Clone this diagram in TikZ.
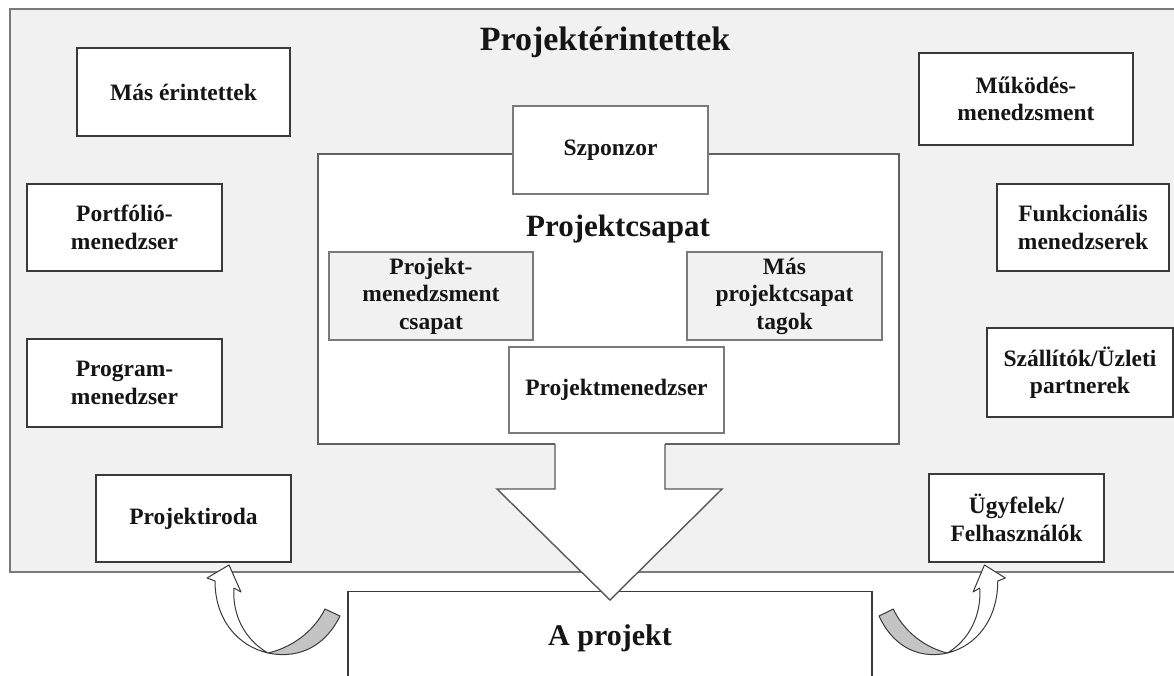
\documentclass[tikz,border=0pt]{standalone}
\usepackage{fontspec}
\setmainfont{Liberation Serif}
\definecolor{bg}{HTML}{F1F1F1}
\definecolor{edge}{HTML}{3A3A3A}
\definecolor{ledge}{HTML}{7A7A7A}
\definecolor{txt}{HTML}{151515}
\definecolor{band}{HTML}{C4C4C4}
\begin{document}
\begin{tikzpicture}[x=1pt,y=-1pt,
  box/.style={draw=edge, fill=white, line width=1.4pt, align=center, inner sep=0pt,
    text=txt, font=\fontsize{23.5}{27.5}\selectfont\bfseries},
  lbox/.style={box, draw=ledge},
  gbox/.style={box, draw=ledge, fill=bg},
  big/.style={text=txt, inner sep=0pt},
  curv/.style={draw=edge, line width=1pt, line join=round}
]
\useasboundingbox (0,0) rectangle (1174,675);
% outer stakeholder area
\path[fill=bg, draw=ledge, line width=1.3pt] (10,9) rectangle (1190,572);
\node[big, font=\fontsize{34}{40}\selectfont\bfseries] (title) at (605,42) {Projektérintettek};

% left boxes
\node[box, minimum width=213pt, minimum height=88pt] (mas) at (183.5,92) {Más érintettek};
\node[box, minimum width=195pt, minimum height=87pt] (portf) at (124.5,227.5) {Portfólió-\\menedzser};
\node[box, minimum width=195pt, minimum height=88pt] (prog) at (124.5,383) {Program-\\menedzser};
\node[box, minimum width=195pt, minimum height=87pt] (pi) at (193.5,518.5) {Projektiroda};

% right boxes
\node[box, minimum width=214pt, minimum height=92pt] (muk) at (1026,99) {Működés-\\menedzsment};
\node[box, minimum width=172pt, minimum height=87pt] (funk) at (1083,227.5) {Funkcionális\\menedzserek};
\node[box, minimum width=186pt, minimum height=89pt] (szall) at (1080,372.5) {Szállítók/Üzleti\\partnerek};
\node[box, minimum width=175pt, minimum height=88pt] (ugyf) at (1016.5,518) {Ügyfelek/\\Felhasználók};

% project team
\node[draw=edge!80, fill=white, line width=1.5pt, minimum width=581pt, minimum height=290pt, inner sep=0pt] (team) at (608.5,299) {};
\node[lbox, minimum width=195pt, minimum height=88pt] (szp) at (610.5,150) {Szponzor};
\node[big, font=\fontsize{31}{34}\selectfont\bfseries] (teamt) at (618,229) {Projektcsapat};
\node[gbox, minimum width=204pt, minimum height=88pt] (pmcs) at (431,296) {Projekt-\\menedzsment\\csapat};
\node[gbox, minimum width=195pt, minimum height=88pt] (mpt) at (784.5,296) {Más\\projektcsapat\\tagok};
\node[lbox, minimum width=215pt, minimum height=86pt] (pm) at (616.5,390) {Projektmenedzser};

% the project
\node[draw=edge, fill=white, line width=1.4pt, anchor=north, minimum width=524pt, minimum height=94pt,
  inner sep=0pt, text=txt, font=\fontsize{30}{34}\selectfont\bfseries] (proj) at (610,591) {A projekt};

% big down arrow
\path[fill=white] (555,442) -- (555,489) -- (497,489) -- (610,600) -- (722,489) -- (665,489) -- (665,442) -- cycle;
\draw[draw=edge!85, line width=1.4pt, line join=miter] (555,444) -- (555,489) -- (497,489) -- (610,600) -- (722,489) -- (665,489) -- (665,444);

% left curved arrow
\filldraw[curv, fill=band] (325,609) -- (340,616) .. controls (327,643) and (302,660) .. (268,653)
   .. controls (290,648) and (313,633) .. (325,609) -- cycle;
\filldraw[curv, fill=white] (268,653) .. controls (238,646) and (215,620) .. (215,581)
   -- (207,578) -- (229,565) -- (241,592) -- (234,588)
   .. controls (232,615) and (245,640) .. (268,653) -- cycle;

% right curved arrow (mirrored)
\begin{scope}[xshift=1202pt, xscale=-0.95]
\filldraw[curv, fill=band] (325,609) -- (340,616) .. controls (327,643) and (302,660) .. (268,653)
   .. controls (290,648) and (313,633) .. (325,609) -- cycle;
\filldraw[curv, fill=white] (268,653) .. controls (238,646) and (215,620) .. (215,581)
   -- (207,578) -- (229,565) -- (241,592) -- (234,588)
   .. controls (232,615) and (245,640) .. (268,653) -- cycle;
\end{scope}
\end{tikzpicture}
\end{document}
